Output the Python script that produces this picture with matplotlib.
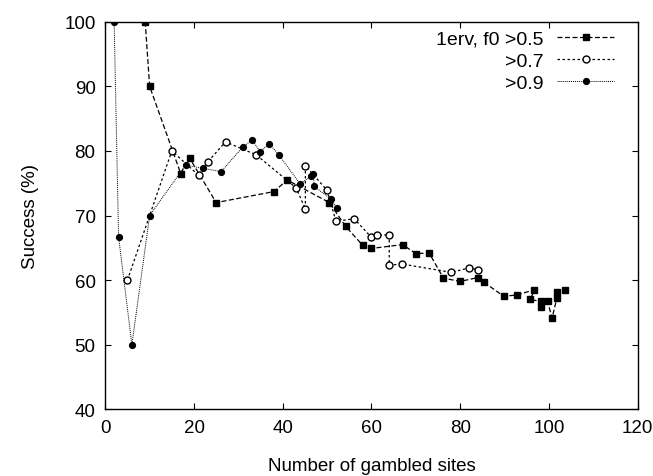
#!/usr/bin/env python3
"""Exito frente a numero de sitios apostados (tres umbrales de f0)."""

import matplotlib

matplotlib.use("Agg")
import matplotlib.pyplot as plt


# Serie 1erv, f0 > 0.5 (cuadrados, discontinua)
SQ_X = [9, 10, 17, 19, 25, 38, 41, 50.5, 54.2, 58, 60, 67, 70, 73, 76.2, 80,
        84, 85.3, 89.8, 92.8, 96.7, 95.8, 98.2, 98.3, 99.7, 100.7, 101.8, 101.7, 103.6]
SQ_Y = [100, 90, 76.5, 78.9, 72.0, 73.7, 75.5, 72.0, 68.3, 65.4, 64.9, 65.5, 64.1, 64.2, 60.3, 59.8,
        60.4, 59.7, 57.5, 57.7, 58.5, 57.0, 56.7, 55.8, 56.7, 54.1, 57.3, 58.2, 58.4]

# f0 > 0.7 (circulos huecos)
OPEN_X = [5, 15, 21.1, 23.1, 27.1, 34, 43, 45.1, 45.1, 50, 52, 56.1, 60, 61.2, 64, 64, 66.8, 78, 82, 84]
OPEN_Y = [60, 80, 76.2, 78.3, 81.4, 79.4, 74.3, 71.0, 77.7, 73.9, 69.1, 69.5, 66.6, 67.0, 67.0, 62.3,
          62.5, 61.2, 61.9, 61.6]

# f0 > 0.9 (circulos llenos)
FULL_X = [2, 3, 6, 10, 18.1, 22.1, 26.1, 31, 33.1, 34.9, 37, 39.1, 43.9, 46.4, 46.9, 47.1, 50.9, 52.3]
FULL_Y = [100, 66.7, 50, 70, 77.8, 77.3, 76.8, 80.6, 81.7, 79.9, 81.1, 79.4, 74.9, 76.1, 76.4, 74.5,
          72.5, 71.1]

LABELS = ["1erv, f0 >0.5", ">0.7", ">0.9"]
X_TICKS = [0, 20, 40, 60, 80, 100, 120]
Y_TICKS = [40, 50, 60, 70, 80, 90, 100]


def main() -> None:
    plt.rcParams["font.family"] = ["Liberation Sans", "DejaVu Sans"]
    plt.rcParams["font.size"] = 13.5

    fig = plt.figure(figsize=(6.53, 4.77), dpi=100)
    ax = fig.add_axes([0.1612, 0.1398, 0.8154, 0.8126])

    ax.plot(SQ_X, SQ_Y, color="black", lw=0.9, ls=(0, (4, 2)),
            marker="s", ms=5.0, mfc="black", mec="black", label=LABELS[0])
    ax.plot(OPEN_X, OPEN_Y, color="black", lw=0.9, ls=(0, (2, 2)),
            marker="o", ms=5.0, mfc="white", mec="black", mew=1.0, label=LABELS[1])
    ax.plot(FULL_X, FULL_Y, color="black", lw=0.7, ls=(0, (1, 1)),
            marker="o", ms=4.2, mfc="black", mec="black", label=LABELS[2])

    ax.set_xlim(0, 120)
    ax.set_ylim(40, 100)
    ax.set_xticks(X_TICKS)
    ax.set_yticks(Y_TICKS)
    ax.tick_params(direction="in", length=4, width=0.8, top=True, right=True, pad=7)
    for spine in ax.spines.values():
        spine.set_linewidth(1.0)

    ax.set_xlabel("Number of gambled sites", labelpad=15)
    ax.set_ylabel("Success (%)", labelpad=18)

    ax.legend(loc="upper right", bbox_to_anchor=(0.955, 0.978), frameon=False,
              markerfirst=False, handlelength=2.9, handletextpad=0.7,
              labelspacing=0.22, borderpad=0, borderaxespad=0, fontsize=14)

    fig.savefig("out.png", dpi=100)
    plt.close(fig)


if __name__ == "__main__":
    main()
